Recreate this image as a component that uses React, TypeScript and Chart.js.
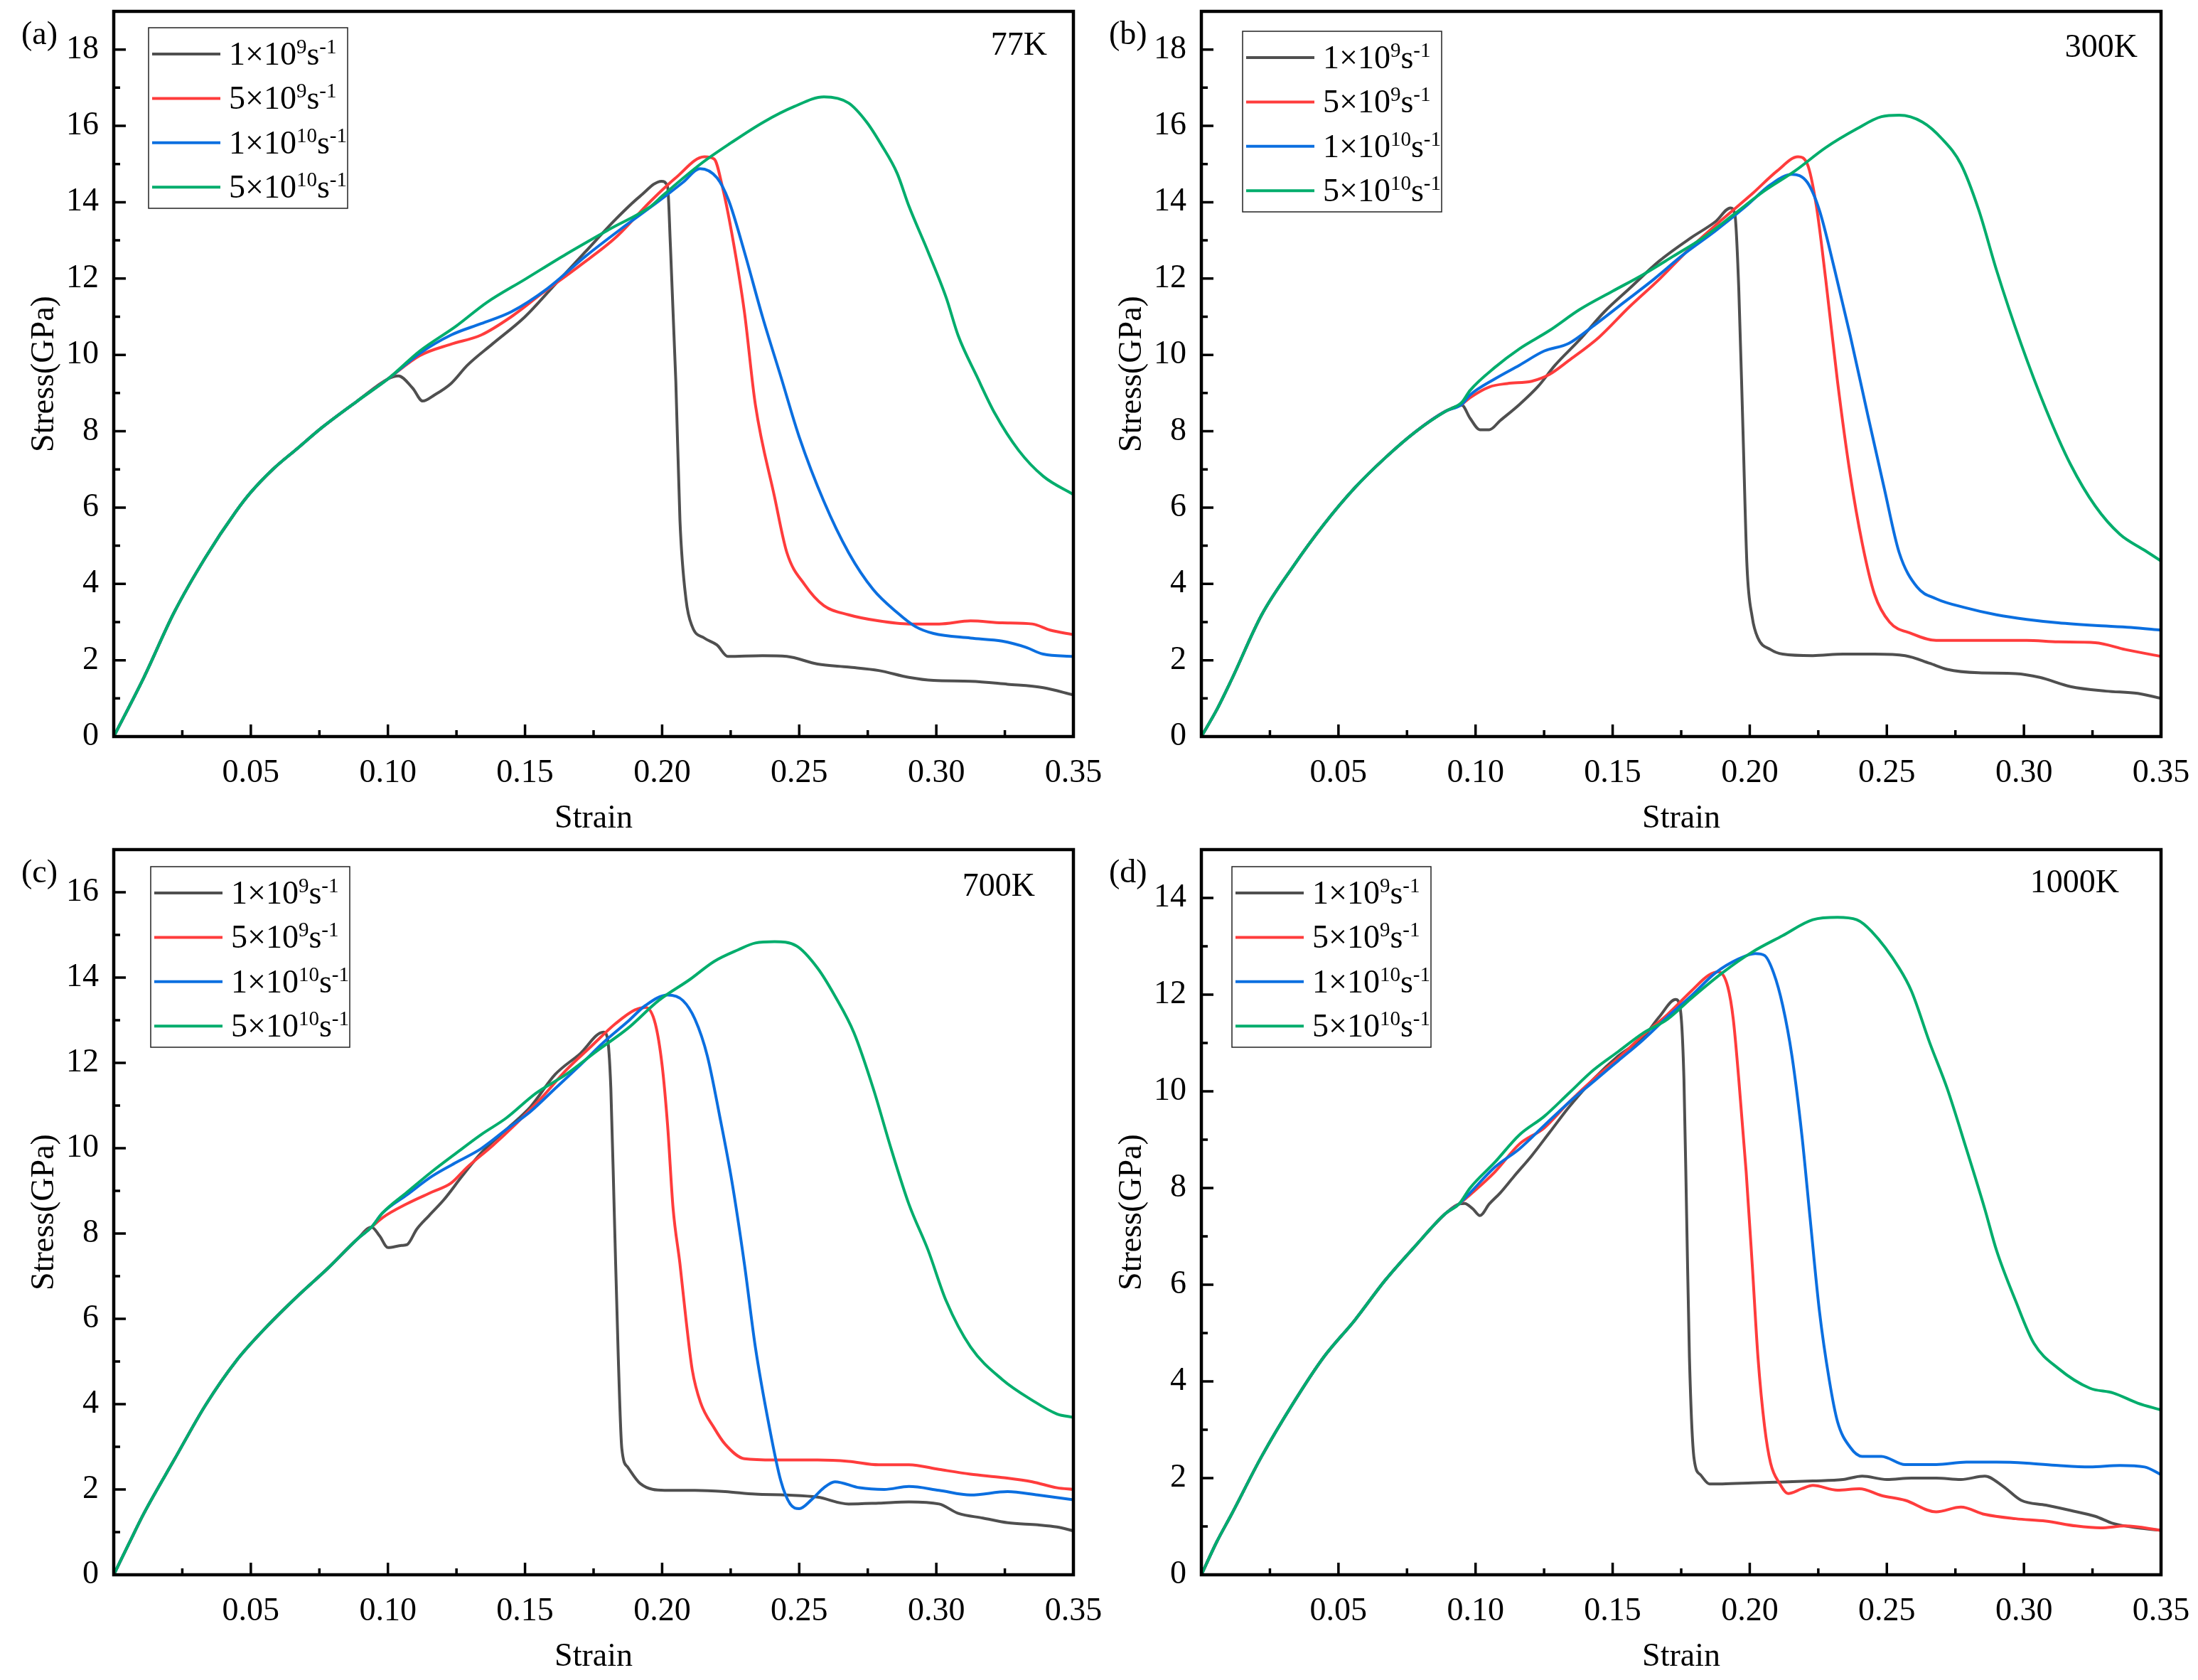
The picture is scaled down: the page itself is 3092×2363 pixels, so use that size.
import React, { useEffect, useRef } from "react";
import { Chart, registerables } from "chart.js";

Chart.register(...registerables);

type Pt = [number, number];

// legend labels: base text + exponent, drawn as 1×10^9 s^-1
const rateBases = ["1×10", "5×10", "1×10", "5×10"];
const rateExps = ["9", "9", "10", "10"];
const rateColors = ["#4f4f4f", "#ff3c3c", "#0b6fe0", "#00ad6c"];

const strainTicks = [0.05, 0.1, 0.15, 0.2, 0.25, 0.3, 0.35];
const stressTicks19 = [0, 2, 4, 6, 8, 10, 12, 14, 16, 18];
const stressTicks17 = [0, 2, 4, 6, 8, 10, 12, 14, 16];
const stressTicks15 = [0, 2, 4, 6, 8, 10, 12, 14];

// (a) 77K
const a77Start: Pt[] = [[0, 0], [0.011, 1.55], [0.022, 3.25], [0.0335, 4.7], [0.0446, 5.9], [0.05, 6.4], [0.058, 7.0], [0.067, 7.55], [0.076, 8.1], [0.089, 8.8], [0.1, 9.37]];
const a77_1e9: Pt[] = [...a77Start, [0.1038, 9.45], [0.109, 9.13], [0.1127, 8.79], [0.117, 8.95], [0.123, 9.25], [0.129, 9.73], [0.138, 10.28], [0.15, 11.0], [0.161, 11.85], [0.172, 12.7], [0.183, 13.55], [0.192, 14.16], [0.1998, 14.55], [0.202, 14.4], [0.203, 12.9], [0.205, 9.3], [0.2065, 5.67], [0.2087, 3.6], [0.211, 2.88], [0.2154, 2.58], [0.22, 2.4], [0.224, 2.1], [0.2366, 2.12], [0.2455, 2.1], [0.2567, 1.9], [0.268, 1.82], [0.279, 1.73], [0.29, 1.55], [0.299, 1.47], [0.3125, 1.45], [0.326, 1.37], [0.339, 1.28], [0.35, 1.09]];
const a77_5e9: Pt[] = [...a77Start, [0.1116, 9.98], [0.123, 10.28], [0.134, 10.52], [0.145, 11.0], [0.156, 11.6], [0.17, 12.34], [0.183, 13.07], [0.196, 14.04], [0.205, 14.64], [0.2154, 15.19], [0.219, 15.13], [0.222, 14.4], [0.2254, 13.19], [0.23, 11.13], [0.234, 8.7], [0.241, 6.28], [0.2455, 4.82], [0.252, 3.98], [0.259, 3.43], [0.268, 3.19], [0.279, 3.03], [0.29, 2.95], [0.301, 2.95], [0.3125, 3.03], [0.324, 2.98], [0.335, 2.95], [0.3415, 2.79], [0.35, 2.67]];
const a77_1e10: Pt[] = [...a77Start, [0.1116, 10.04], [0.123, 10.52], [0.134, 10.82], [0.145, 11.13], [0.158, 11.73], [0.172, 12.58], [0.185, 13.3], [0.199, 14.04], [0.2076, 14.52], [0.2138, 14.88], [0.22, 14.64], [0.2243, 14.04], [0.23, 12.7], [0.2366, 11.0], [0.2433, 9.43], [0.25, 7.85], [0.259, 6.16], [0.268, 4.82], [0.277, 3.85], [0.2857, 3.25], [0.2924, 2.88], [0.299, 2.7], [0.3125, 2.58], [0.324, 2.5], [0.3326, 2.34], [0.339, 2.16], [0.35, 2.1]];
const a77_5e10: Pt[] = [...a77Start, [0.1116, 10.1], [0.125, 10.76], [0.136, 11.37], [0.15, 11.98], [0.165, 12.64], [0.181, 13.3], [0.196, 13.9], [0.2, 14.16], [0.214, 15.0], [0.225, 15.55], [0.237, 16.1], [0.248, 16.5], [0.259, 16.76], [0.268, 16.6], [0.2746, 16.1], [0.28, 15.5], [0.2857, 14.76], [0.29, 13.9], [0.297, 12.7], [0.3036, 11.5], [0.308, 10.5], [0.3147, 9.45], [0.3214, 8.46], [0.33, 7.5], [0.339, 6.82], [0.35, 6.34]];

// (b) 300K
const b300Start: Pt[] = [[0, 0], [0.0056, 0.7], [0.011, 1.49], [0.022, 3.19], [0.0335, 4.46], [0.0446, 5.55], [0.056, 6.52], [0.067, 7.3], [0.078, 7.98], [0.089, 8.52]];
const b300_1e9: Pt[] = [...b300Start, [0.095, 8.68], [0.098, 8.34], [0.1016, 8.04], [0.105, 8.04], [0.109, 8.28], [0.116, 8.7], [0.123, 9.19], [0.129, 9.73], [0.138, 10.4], [0.147, 11.13], [0.156, 11.73], [0.167, 12.46], [0.1786, 13.07], [0.1875, 13.49], [0.193, 13.85], [0.1946, 13.67], [0.196, 11.73], [0.1975, 8.1], [0.199, 4.46], [0.2009, 3.13], [0.203, 2.58], [0.2076, 2.28], [0.212, 2.16], [0.223, 2.12], [0.234, 2.16], [0.2455, 2.16], [0.2567, 2.12], [0.2656, 1.92], [0.272, 1.76], [0.2835, 1.67], [0.297, 1.65], [0.3058, 1.55], [0.317, 1.31], [0.33, 1.19], [0.3415, 1.13], [0.35, 1.0]];
const b300_5e9: Pt[] = [...b300Start, [0.0949, 8.7], [0.098, 8.88], [0.105, 9.16], [0.1116, 9.25], [0.1205, 9.31], [0.127, 9.49], [0.134, 9.85], [0.145, 10.46], [0.156, 11.25], [0.167, 11.98], [0.1786, 12.82], [0.19, 13.55], [0.2009, 14.22], [0.21, 14.82], [0.2176, 15.19], [0.221, 15.0], [0.2243, 13.9], [0.2277, 11.98], [0.232, 9.31], [0.2366, 6.88], [0.241, 5.07], [0.2455, 3.73], [0.251, 3.0], [0.259, 2.7], [0.268, 2.52], [0.279, 2.52], [0.29, 2.52], [0.301, 2.52], [0.3125, 2.48], [0.326, 2.46], [0.337, 2.28], [0.35, 2.1]];
const b300_1e10: Pt[] = [...b300Start, [0.0949, 8.7], [0.098, 8.95], [0.107, 9.37], [0.116, 9.73], [0.125, 10.1], [0.134, 10.3], [0.143, 10.76], [0.154, 11.37], [0.165, 11.98], [0.176, 12.64], [0.1875, 13.25], [0.1987, 13.9], [0.2076, 14.46], [0.2154, 14.73], [0.221, 14.52], [0.2254, 13.79], [0.231, 12.22], [0.2366, 10.52], [0.2433, 8.34], [0.249, 6.52], [0.2545, 4.82], [0.261, 3.92], [0.268, 3.61], [0.279, 3.37], [0.29, 3.19], [0.301, 3.07], [0.3125, 2.98], [0.326, 2.91], [0.339, 2.86], [0.35, 2.79]];
const b300_5e10: Pt[] = [...b300Start, [0.0949, 8.75], [0.098, 9.07], [0.107, 9.67], [0.116, 10.16], [0.127, 10.64], [0.138, 11.19], [0.15, 11.67], [0.161, 12.1], [0.172, 12.58], [0.183, 13.07], [0.194, 13.67], [0.205, 14.28], [0.2165, 14.82], [0.2277, 15.43], [0.239, 15.92], [0.248, 16.24], [0.2545, 16.28], [0.263, 16.1], [0.27, 15.67], [0.277, 15.0], [0.2835, 13.8], [0.29, 12.22], [0.299, 10.28], [0.308, 8.58], [0.317, 7.13], [0.326, 6.04], [0.335, 5.3], [0.344, 4.88], [0.35, 4.6]];

// (c) 700K
const c700Start: Pt[] = [[0, 0], [0.0056, 0.74], [0.011, 1.44], [0.022, 2.69], [0.0335, 3.98], [0.0446, 5.01], [0.056, 5.83], [0.067, 6.53], [0.078, 7.18], [0.089, 7.88], [0.094, 8.15]];
const c700_1e9: Pt[] = [...c700Start, [0.097, 7.94], [0.1, 7.67], [0.105, 7.72], [0.107, 7.74], [0.1105, 8.1], [0.115, 8.42], [0.1205, 8.8], [0.127, 9.34], [0.134, 9.89], [0.143, 10.43], [0.152, 10.97], [0.161, 11.73], [0.17, 12.21], [0.1786, 12.72], [0.18, 12.6], [0.1813, 11.4], [0.1826, 8.37], [0.184, 5.12], [0.1853, 2.96], [0.1875, 2.52], [0.192, 2.14], [0.2009, 1.98], [0.212, 1.98], [0.223, 1.95], [0.234, 1.89], [0.2455, 1.87], [0.2567, 1.82], [0.268, 1.66], [0.279, 1.68], [0.29, 1.71], [0.301, 1.66], [0.308, 1.44], [0.317, 1.33], [0.326, 1.22], [0.337, 1.17], [0.344, 1.12], [0.35, 1.03]];
const c700_5e9: Pt[] = [...c700Start, [0.098, 8.37], [0.107, 8.7], [0.116, 8.97], [0.123, 9.18], [0.129, 9.56], [0.138, 10.05], [0.147, 10.59], [0.156, 11.18], [0.165, 11.83], [0.174, 12.38], [0.183, 12.92], [0.19, 13.24], [0.194, 13.3], [0.1975, 12.92], [0.2, 11.94], [0.202, 10.53], [0.204, 8.59], [0.2065, 7.29], [0.2087, 5.99], [0.211, 4.8], [0.214, 4.04], [0.219, 3.44], [0.223, 3.06], [0.23, 2.72], [0.241, 2.69], [0.2567, 2.69], [0.268, 2.66], [0.279, 2.58], [0.29, 2.58], [0.301, 2.47], [0.3125, 2.36], [0.324, 2.28], [0.335, 2.18], [0.344, 2.04], [0.35, 2.0]];
const c700_1e10: Pt[] = [...c700Start, [0.098, 8.48], [0.107, 8.91], [0.116, 9.34], [0.125, 9.67], [0.134, 9.99], [0.143, 10.43], [0.152, 10.86], [0.161, 11.4], [0.17, 11.94], [0.1786, 12.48], [0.1875, 12.97], [0.194, 13.35], [0.202, 13.59], [0.2076, 13.46], [0.212, 13.02], [0.2165, 12.16], [0.221, 10.75], [0.2254, 9.24], [0.23, 7.29], [0.234, 5.34], [0.239, 3.5], [0.2433, 2.2], [0.2467, 1.66], [0.25, 1.55], [0.2545, 1.76], [0.259, 2.04], [0.263, 2.18], [0.272, 2.04], [0.281, 2.0], [0.29, 2.07], [0.301, 1.98], [0.3125, 1.87], [0.326, 1.95], [0.337, 1.87], [0.35, 1.76]];
const c700_5e10: Pt[] = [...c700Start, [0.098, 8.48], [0.107, 8.97], [0.116, 9.45], [0.125, 9.89], [0.134, 10.32], [0.143, 10.7], [0.154, 11.29], [0.165, 11.73], [0.176, 12.27], [0.1875, 12.81], [0.1987, 13.46], [0.21, 13.95], [0.219, 14.38], [0.2277, 14.65], [0.234, 14.81], [0.241, 14.84], [0.249, 14.74], [0.2567, 14.22], [0.263, 13.57], [0.27, 12.7], [0.277, 11.4], [0.2835, 9.99], [0.29, 8.69], [0.297, 7.61], [0.3036, 6.42], [0.3125, 5.34], [0.324, 4.58], [0.335, 4.09], [0.344, 3.77], [0.35, 3.69]];

// (d) 1000K
const d1000Start: Pt[] = [[0, 0], [0.0056, 0.68], [0.011, 1.25], [0.022, 2.45], [0.0335, 3.55], [0.0446, 4.5], [0.056, 5.27], [0.067, 6.09], [0.078, 6.8], [0.089, 7.47], [0.094, 7.67]];
const d1000_1e9: Pt[] = [...d1000Start, [0.096, 7.68], [0.099, 7.57], [0.1016, 7.43], [0.105, 7.67], [0.109, 7.9], [0.114, 8.24], [0.1205, 8.67], [0.127, 9.15], [0.134, 9.67], [0.143, 10.25], [0.152, 10.73], [0.161, 11.11], [0.167, 11.54], [0.173, 11.9], [0.1746, 11.73], [0.176, 10.25], [0.177, 7.38], [0.178, 4.5], [0.1797, 2.4], [0.182, 2.07], [0.1853, 1.88], [0.19, 1.88], [0.2009, 1.9], [0.212, 1.92], [0.223, 1.94], [0.234, 1.97], [0.241, 2.04], [0.25, 1.97], [0.259, 2.0], [0.268, 2.0], [0.277, 1.97], [0.2857, 2.04], [0.2924, 1.83], [0.299, 1.54], [0.308, 1.44], [0.317, 1.33], [0.326, 1.21], [0.3326, 1.06], [0.3415, 0.97], [0.35, 0.92]];
const d1000_5e9: Pt[] = [...d1000Start, [0.098, 7.86], [0.107, 8.33], [0.116, 8.91], [0.125, 9.24], [0.134, 9.77], [0.143, 10.25], [0.152, 10.68], [0.161, 11.16], [0.17, 11.59], [0.1786, 12.07], [0.185, 12.4], [0.1886, 12.47], [0.192, 12.16], [0.194, 11.49], [0.196, 10.25], [0.1987, 8.33], [0.2009, 6.42], [0.203, 4.5], [0.2054, 3.07], [0.2076, 2.31], [0.211, 1.88], [0.214, 1.68], [0.219, 1.78], [0.223, 1.85], [0.232, 1.75], [0.24, 1.78], [0.248, 1.64], [0.2567, 1.54], [0.268, 1.3], [0.277, 1.4], [0.2857, 1.25], [0.297, 1.16], [0.308, 1.11], [0.319, 1.01], [0.328, 0.97], [0.337, 1.01], [0.35, 0.92]];
const d1000_1e10: Pt[] = [...d1000Start, [0.098, 7.9], [0.107, 8.43], [0.116, 8.81], [0.125, 9.29], [0.134, 9.77], [0.143, 10.2], [0.152, 10.63], [0.161, 11.06], [0.17, 11.54], [0.1786, 11.97], [0.1875, 12.45], [0.196, 12.74], [0.202, 12.85], [0.2054, 12.81], [0.2087, 12.45], [0.212, 11.78], [0.2154, 10.73], [0.219, 9.1], [0.222, 7.38], [0.2254, 5.46], [0.229, 4.03], [0.232, 3.17], [0.2366, 2.64], [0.241, 2.45], [0.248, 2.45], [0.2567, 2.28], [0.268, 2.28], [0.279, 2.33], [0.29, 2.33], [0.301, 2.31], [0.3125, 2.26], [0.324, 2.23], [0.335, 2.26], [0.344, 2.23], [0.35, 2.07]];
const d1000_5e10: Pt[] = [...d1000Start, [0.098, 8.0], [0.107, 8.53], [0.116, 9.1], [0.125, 9.48], [0.134, 9.96], [0.143, 10.44], [0.152, 10.82], [0.161, 11.2], [0.17, 11.49], [0.1786, 11.92], [0.19, 12.45], [0.2009, 12.88], [0.212, 13.22], [0.223, 13.55], [0.232, 13.6], [0.239, 13.55], [0.2444, 13.31], [0.2545, 12.55], [0.259, 12.07], [0.2656, 11.01], [0.272, 10.06], [0.279, 8.81], [0.2857, 7.57], [0.29, 6.71], [0.297, 5.66], [0.3036, 4.79], [0.3125, 4.27], [0.324, 3.86], [0.3326, 3.76], [0.3415, 3.55], [0.35, 3.41]];

const FONT = '"Liberation Serif", "Times New Roman", serif';
const PANEL_W = 1530;
const PANEL_H = 1179;
const CANVAS_W = 1600; // a bit wider than the panel so the last tick label is not cut

Chart.defaults.font.family = FONT;

interface PanelCfg {
  tag: string;
  temp: string;
  series: Pt[][];
  yMax: number;
  yTicks: number[];
  left: number;
  top: number;
  legendX: number;
  legendY: number;
  tempX: number;
  tempY: number;
}

const panels: PanelCfg[] = [
  { tag: "(a)", temp: "77K", series: [a77_1e9, a77_5e9, a77_1e10, a77_5e10], yMax: 19, yTicks: stressTicks19, left: 0, top: 0, legendX: 209, legendY: 39, tempX: 1473, tempY: 65 },
  { tag: "(b)", temp: "300K", series: [b300_1e9, b300_5e9, b300_1e10, b300_5e10], yMax: 19, yTicks: stressTicks19, left: PANEL_W, top: 0, legendX: 218, legendY: 44, tempX: 1477, tempY: 68 },
  { tag: "(c)", temp: "700K", series: [c700_1e9, c700_5e9, c700_1e10, c700_5e10], yMax: 17, yTicks: stressTicks17, left: 0, top: PANEL_H, legendX: 212, legendY: 40, tempX: 1456, tempY: 69 },
  { tag: "(d)", temp: "1000K", series: [d1000_1e9, d1000_5e9, d1000_1e10, d1000_5e10], yMax: 15, yTicks: stressTicks15, left: PANEL_W, top: PANEL_H, legendX: 203, legendY: 40, tempX: 1451, tempY: 64 },
];

const Panel: React.FC<{ cfg: PanelCfg }> = ({ cfg }) => {
  const canvasRef = useRef<HTMLCanvasElement | null>(null);

  useEffect(() => {
    if (!canvasRef.current) return;

    // frame, inward ticks, legend and labels
    const decorations = {
      id: "decorations",
      afterDatasetsDraw(chart: Chart) {
        const { ctx, chartArea: a } = chart;
        const xs = chart.scales.x;
        const ys = chart.scales.y;
        ctx.save();

        ctx.strokeStyle = "#000";
        ctx.lineWidth = 3.5;
        ctx.beginPath();
        const xt = [0, ...strainTicks];
        for (let i = 0; i < xt.length; i++) {
          const px = xs.getPixelForValue(xt[i]);
          ctx.moveTo(px, a.bottom);
          ctx.lineTo(px, a.bottom - 17);
          if (i > 0) {
            const mx = xs.getPixelForValue((xt[i - 1] + xt[i]) / 2);
            ctx.moveTo(mx, a.bottom);
            ctx.lineTo(mx, a.bottom - 9);
          }
        }
        const yt = [...cfg.yTicks, cfg.yTicks[cfg.yTicks.length - 1] + 2];
        for (let i = 0; i < yt.length; i++) {
          if (yt[i] <= cfg.yMax) {
            const py = ys.getPixelForValue(yt[i]);
            ctx.moveTo(a.left, py);
            ctx.lineTo(a.left + 17, py);
          }
          if (i > 0) {
            const mv = (yt[i - 1] + yt[i]) / 2;
            if (mv <= cfg.yMax) {
              const my = ys.getPixelForValue(mv);
              ctx.moveTo(a.left, my);
              ctx.lineTo(a.left + 9, my);
            }
          }
        }
        ctx.stroke();

        ctx.lineWidth = 4.5;
        ctx.strokeRect(a.left, a.top, a.right - a.left, a.bottom - a.top);

        // legend
        const lx = cfg.legendX;
        const ly = cfg.legendY;
        ctx.fillStyle = "#fff";
        ctx.fillRect(lx, ly, 280, 254);
        ctx.lineWidth = 1.5;
        ctx.strokeStyle = "#222";
        ctx.strokeRect(lx, ly, 280, 254);
        for (let i = 0; i < rateBases.length; i++) {
          const rowY = ly + 37 + i * 62.4;
          ctx.strokeStyle = rateColors[i];
          ctx.lineWidth = 4;
          ctx.beginPath();
          ctx.moveTo(lx + 5, rowY);
          ctx.lineTo(lx + 101, rowY);
          ctx.stroke();

          const base = rowY + 15;
          let tx = lx + 113;
          ctx.fillStyle = "#000";
          ctx.textAlign = "left";
          ctx.textBaseline = "alphabetic";
          ctx.font = `46px ${FONT}`;
          ctx.fillText(rateBases[i], tx, base);
          tx += ctx.measureText(rateBases[i]).width;
          ctx.font = `29px ${FONT}`;
          ctx.fillText(rateExps[i], tx, base - 16);
          tx += ctx.measureText(rateExps[i]).width;
          ctx.font = `46px ${FONT}`;
          ctx.fillText("s", tx, base);
          tx += ctx.measureText("s").width;
          ctx.font = `29px ${FONT}`;
          ctx.fillText("-1", tx, base - 16);
        }

        ctx.fillStyle = "#000";
        ctx.font = `46px ${FONT}`;
        ctx.textBaseline = "middle";
        ctx.textAlign = "right";
        ctx.fillText(cfg.temp, cfg.tempX, cfg.tempY);
        ctx.textAlign = "left";
        ctx.fillText(cfg.tag, 30, 50);

        ctx.restore();
      },
    };

    const chart = new Chart(canvasRef.current, {
      type: "line",
      data: {
        datasets: cfg.series.map((s, i) => ({
          label: rateBases[i] + rateExps[i],
          data: s.map(([x, y]) => ({ x, y })),
          borderColor: rateColors[i],
          borderWidth: 4,
          pointRadius: 0,
          cubicInterpolationMode: "monotone" as const,
          fill: false,
          order: cfg.series.length - 1 - i,
        })),
      },
      options: {
        responsive: false,
        animation: false,
        events: [],
        layout: { padding: { left: 0, top: 16, right: CANVAS_W - 1510, bottom: 0 } },
        plugins: {
          legend: { display: false },
          tooltip: { enabled: false },
        },
        scales: {
          x: {
            type: "linear",
            min: 0,
            max: 0.35,
            afterFit: (scale: any) => {
              scale.height = PANEL_H - 16 - 1020;
              scale.paddingLeft = 0;
              scale.paddingRight = 0;
            },
            afterBuildTicks: (scale) => {
              scale.ticks = strainTicks.map((v) => ({ value: v }));
            },
            grid: { display: false, drawTicks: false },
            border: { display: false },
            ticks: {
              autoSkip: false,
              maxRotation: 0,
              padding: 24,
              color: "#000",
              font: { family: FONT, size: 46 },
              callback: (v) => Number(v).toFixed(2),
            },
            title: {
              display: true,
              text: "Strain",
              color: "#000",
              font: { family: FONT, size: 46, lineHeight: 1 },
              padding: { top: 0, bottom: 4 },
            },
          },
          y: {
            type: "linear",
            min: 0,
            max: cfg.yMax,
            afterFit: (scale: any) => {
              scale.width = 160;
              scale.paddingTop = 0;
              scale.paddingBottom = 0;
            },
            afterBuildTicks: (scale) => {
              scale.ticks = cfg.yTicks.map((v) => ({ value: v }));
            },
            grid: { display: false, drawTicks: false },
            border: { display: false },
            ticks: {
              autoSkip: false,
              padding: 21,
              color: "#000",
              font: { family: FONT, size: 46 },
              callback: (v) => String(v),
            },
            title: {
              display: true,
              text: "Stress(GPa)",
              color: "#000",
              font: { family: FONT, size: 46, lineHeight: 1 },
              padding: { top: 40, bottom: 0 },
            },
          },
        },
      },
      plugins: [decorations],
    });

    return () => {
      chart.destroy();
    };
  }, [cfg]);

  return (
    <canvas
      ref={canvasRef}
      width={CANVAS_W}
      height={PANEL_H}
      style={{ position: "absolute", left: cfg.left, top: cfg.top, display: "block" }}
    />
  );
};

const App: React.FC = () => {
  return (
    <div
      style={{
        position: "absolute",
        left: 0,
        top: 0,
        width: 3092,
        height: 2363,
        background: "#fff",
        overflow: "hidden",
      }}
    >
      {panels.map((p) => (
        <Panel key={p.tag} cfg={p} />
      ))}
    </div>
  );
};

export default App;
